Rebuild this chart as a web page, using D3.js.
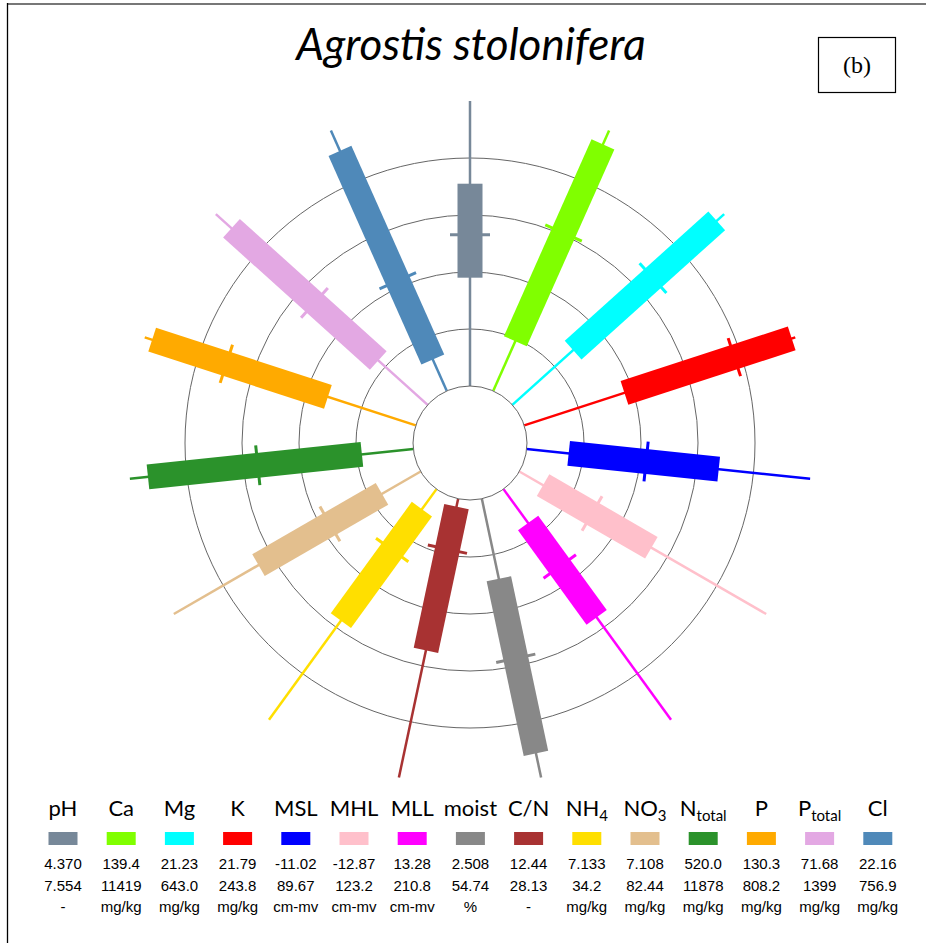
<!DOCTYPE html>
<html lang="en">
<head>
<meta charset="utf-8">
<title>Agrostis stolonifera</title>
<script src="https://cdn.jsdelivr.net/npm/d3@7/dist/d3.min.js"></script>
<style>
  body { margin: 0; background: #fff; }
  svg { display: block; }
</style>
</head>
<body>
<div id="chart"></div>
<script>
// variables, clockwise from the top
var variables = ["pH", "Ca", "Mg", "K", "MSL", "MHL", "MLL", "moist", "C/N", "NH4", "NO3", "Ntotal", "P", "Ptotal", "Cl"];
var labelBase = ["pH", "Ca", "Mg", "K", "MSL", "MHL", "MLL", "moist", "C/N", "NH", "NO", "N", "P", "P", "Cl"];
var labelSub  = ["", "", "", "", "", "", "", "", "", "4", "3", "total", "", "total", ""];

// axis range of each spoke (inner circle -> end of whisker)
var minLabels = ["4.370", "139.4", "21.23", "21.79", "-11.02", "-12.87", "13.28", "2.508", "12.44", "7.133", "7.108", "520.0", "130.3", "71.68", "22.16"];
var maxLabels = ["7.554", "11419", "643.0", "243.8", "89.67", "123.2", "210.8", "54.74", "28.13", "34.2", "82.44", "11878", "808.2", "1399", "756.9"];
var units     = ["-", "mg/kg", "mg/kg", "mg/kg", "cm-mv", "cm-mv", "cm-mv", "%", "-", "mg/kg", "mg/kg", "mg/kg", "mg/kg", "mg/kg", "mg/kg"];

// box values
var q1     = [5.58, 2293, 199.6, 103.9, 3.9, 0.2, 42.3, 17.5, 12.88, 9.49, 18.9, 2580, 350.1, 381, 110.9];
var median = [6.06, 6986, 434.1, 193.9, 31.4, 27.2, 79.6, 32.4, 15.28, 14.29, 34.8, 6753, 604.1, 781, 333.1];
var q3     = [6.63, 10821, 621.2, 240.9, 57.2, 59.9, 123.1, 50.2, 20.97, 22.58, 56.6, 11153, 789.6, 1301, 699.4];

var colors = ["#778899", "#80ff00", "#00ffff", "#ff0000", "#0000ff", "#ffc0cb", "#ff00ff", "#888888",
              "#a83232", "#ffdf00", "#e3bf8e", "#2b922b", "#ffaa00", "#e3a8e3", "#4f89b9"];

var width = 926, height = 943;
var cx = 470, cy = 443;
var r0 = 57, rMax = 342;
var boxW = 25, medW = 40;

var svg = d3.select("#chart").append("svg")
    .attr("width", width)
    .attr("height", height);

svg.append("rect").attr("width", width).attr("height", height).attr("fill", "#fff");

// frame (only left and top edges show)
svg.append("line").attr("x1", 7).attr("y1", 4).attr("x2", width).attr("y2", 4)
    .attr("stroke", "#777").attr("stroke-width", 2);
svg.append("line").attr("x1", 7.5).attr("y1", 3).attr("x2", 7.5).attr("y2", height)
    .attr("stroke", "#000").attr("stroke-width", 1.3);

// title
svg.append("text")
    .attr("x", 471).attr("y", 60)
    .attr("text-anchor", "middle")
    .style("font-family", "Lato, 'Open Sans', sans-serif")
    .style("font-style", "italic")
    .style("font-size", "44px")
    .text("Agrostis stolonifera");

// (b) panel tag
svg.append("rect").attr("x", 818.5).attr("y", 37.5).attr("width", 77).attr("height", 55)
    .attr("fill", "none").attr("stroke", "#000").attr("stroke-width", 1.2);
svg.append("text")
    .attr("x", 857).attr("y", 73)
    .attr("text-anchor", "middle")
    .style("font-family", "'Liberation Serif', 'Times New Roman', serif")
    .style("font-size", "24px")
    .text("(b)");

var angle = d3.scaleBand().domain(variables).range([0, 360]);
var grid = d3.scaleLinear().domain([0, 1]).range([r0, rMax]);

var plot = svg.append("g").attr("transform", "translate(" + cx + "," + cy + ")");

// grid rings
plot.selectAll("circle.ring")
    .data([0.2, 0.4, 0.6, 0.8])
    .enter().append("circle")
    .attr("class", "ring")
    .attr("r", function(d) { return grid(d); })
    .attr("fill", "none")
    .attr("stroke", "#666")
    .attr("stroke-width", 1);

// one spoke per variable
var spokes = plot.selectAll("g.spoke")
    .data(variables)
    .enter().append("g")
    .attr("class", "spoke")
    .attr("transform", function(d) { return "rotate(" + angle(d) + ")"; });

spokes.each(function(d, i) {
    var g = d3.select(this);
    var r = d3.scaleLinear().domain([+minLabels[i], +maxLabels[i]]).range([r0, rMax]);

    g.append("line")
        .attr("x1", 0).attr("x2", 0)
        .attr("y1", -r(+minLabels[i])).attr("y2", -r(+maxLabels[i]))
        .attr("stroke", colors[i]).attr("stroke-width", 2.5);

    g.append("line")
        .attr("x1", -medW / 2).attr("x2", medW / 2)
        .attr("y1", -r(median[i])).attr("y2", -r(median[i]))
        .attr("stroke", colors[i]).attr("stroke-width", 3);

    g.append("rect")
        .attr("x", -boxW / 2)
        .attr("y", -r(q3[i]))
        .attr("width", boxW)
        .attr("height", r(q3[i]) - r(q1[i]))
        .attr("fill", colors[i]);
});

// inner circle
plot.append("circle")
    .attr("r", r0)
    .attr("fill", "#fff")
    .attr("stroke", "#666")
    .attr("stroke-width", 1);

// legend
var lx = d3.scalePoint().domain(variables).range([63, 877.8]);

var names = svg.selectAll("text.name")
    .data(variables)
    .enter().append("text")
    .attr("class", "name")
    .attr("x", function(d) { return lx(d); })
    .attr("y", 816)
    .attr("text-anchor", "middle")
    .style("font-family", "Lato, 'Open Sans', sans-serif")
    .style("font-size", "22px");

names.append("tspan").text(function(d, i) { return labelBase[i]; });
names.filter(function(d, i) { return labelSub[i] !== ""; })
    .append("tspan")
    .attr("dy", 5)
    .style("font-size", "15px")
    .text(function(d) { return labelSub[variables.indexOf(d)]; });

svg.selectAll("rect.swatch")
    .data(variables)
    .enter().append("rect")
    .attr("class", "swatch")
    .attr("x", function(d) { return lx(d) - 14.5; })
    .attr("y", 832)
    .attr("width", 29)
    .attr("height", 13)
    .attr("fill", function(d, i) { return colors[i]; });

var rows = [minLabels, maxLabels, units];
rows.forEach(function(row, k) {
    svg.selectAll("text.row" + k)
        .data(row)
        .enter().append("text")
        .attr("class", "row" + k)
        .attr("x", function(d, i) { return lx(variables[i]); })
        .attr("y", 869 + k * 21.5)
        .attr("text-anchor", "middle")
        .style("font-family", "'Liberation Sans', Arial, sans-serif")
        .style("font-size", "15px")
        .text(function(d) { return d; });
});
</script>
</body>
</html>
